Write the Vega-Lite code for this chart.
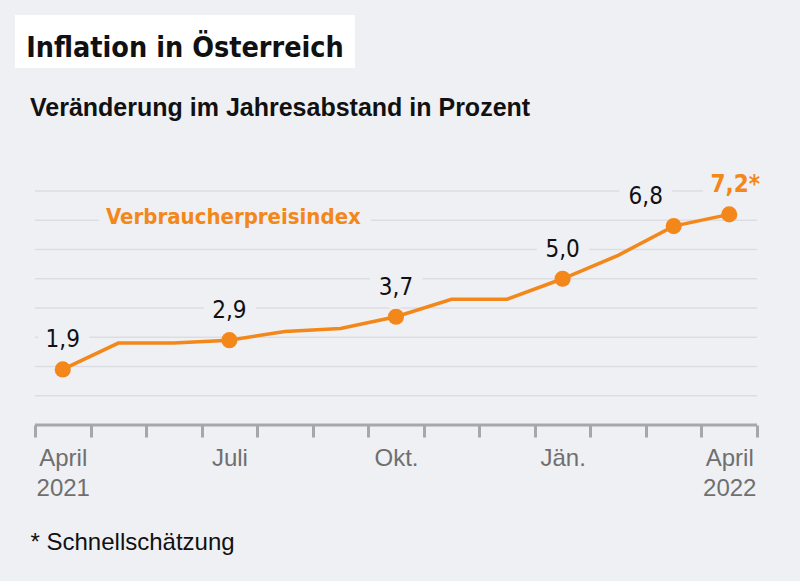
{
  "$schema": "https://vega.github.io/schema/vega-lite/v6.json",
  "background": "#eff0f4",
  "padding": {"left": 15, "top": 15, "right": 23, "bottom": 28},
  "autosize": {"type": "pad"},
  "columns": 1,
  "align": "none",
  "spacing": 28,
  "config": {"view": {"stroke": null}, "font": "Liberation Sans"},
  "datasets": {
    "cpi": [
      {"m": "Apr21", "v": 1.9, "lab": "1,9", "k": "n"},
      {"m": "Mai", "v": 2.8},
      {"m": "Jun", "v": 2.8},
      {"m": "Jul", "v": 2.9, "lab": "2,9", "k": "n"},
      {"m": "Aug", "v": 3.2},
      {"m": "Sep", "v": 3.3},
      {"m": "Okt", "v": 3.7, "lab": "3,7", "k": "n"},
      {"m": "Nov", "v": 4.3},
      {"m": "Dez", "v": 4.3},
      {"m": "Jan", "v": 5.0, "lab": "5,0", "k": "n"},
      {"m": "Feb", "v": 5.8},
      {"m": "Mar", "v": 6.8, "lab": "6,8", "k": "l"},
      {"m": "Apr22", "v": 7.2, "lab": "7,2*", "k": "h"}
    ],
    "grid": [{"g": 1}, {"g": 2}, {"g": 3}, {"g": 4}, {"g": 5}, {"g": 6}, {"g": 7}, {"g": 8}],
    "base": [{"g": 0}],
    "note": [{"m": "Jul", "v": 7.1, "t": "Verbraucherpreisindex"}],
    "head": [{"t": "Inflation in Österreich"}]
  },
  "concat": [
    {
      "width": 340,
      "height": 53,
      "view": {"fill": "white", "stroke": null},
      "data": {"name": "head"},
      "mark": {"type": "text", "font": "DejaVu Sans Condensed, Roboto, sans-serif", "fontWeight": "bold", "fontSize": 28.5, "align": "center", "baseline": "alphabetic", "dy": 15, "color": "#111111"},
      "encoding": {"text": {"field": "t"}}
    },
    {
      "width": 762,
      "height": 234,
      "title": {"text": "Veränderung im Jahresabstand in Prozent", "anchor": "start", "frame": "group", "dx": 15, "offset": 32, "baseline": "alphabetic", "fontSize": 25, "font": "Liberation Sans", "fontWeight": "bold", "color": "#111111"},
      "data": {"name": "cpi"},
      "encoding": {
        "x": {
          "field": "m", "type": "nominal", "sort": null,
          "scale": {"type": "band", "paddingInner": 0, "paddingOuter": 0.36, "domain": ["Apr21", "Mai", "Jun", "Jul", "Aug", "Sep", "Okt", "Nov", "Dez", "Jan", "Feb", "Mar", "Apr22"]},
          "axis": {
            "orient": "bottom", "labelAngle": 0,
            "domain": false,
            "tickColor": "#a7a7ab", "tickWidth": 3, "tickSize": 12, "tickBand": "extent",
            "labelColor": "#6f6f6f", "labelFont": "Liberation Sans", "labelFontSize": 24, "labelPadding": 9, "labelLineHeight": 30,
            "labelExpr": "datum.value == 'Apr21' ? ['April','2021'] : datum.value == 'Jul' ? 'Juli' : datum.value == 'Okt' ? 'Okt.' : datum.value == 'Jan' ? 'Jän.' : datum.value == 'Apr22' ? ['April','2022'] : ''",
            "title": "* Schnellschätzung", "titleFont": "Liberation Sans", "titleFontSize": 24, "titleFontWeight": "normal", "titleColor": "#111111",
            "titleAnchor": "start", "titleAlign": "left", "titleX": 15, "titleY": 124, "titleBaseline": "alphabetic"
          }
        },
        "y": {
          "field": "v", "type": "quantitative",
          "scale": {"domain": [0, 8], "nice": false},
          "axis": null
        }
      },
      "layer": [
        {
          "data": {"name": "grid"},
          "mark": {"type": "rule", "color": "#dcdde2", "strokeWidth": 1.5},
          "encoding": {
            "y": {"field": "g", "type": "quantitative"},
            "x": {"datum": "Apr21", "bandPosition": 0},
            "x2": {"datum": "Apr22", "bandPosition": 1}
          }
        },
        {
          "data": {"name": "base"},
          "mark": {"type": "rule", "color": "#a7a7ab", "strokeWidth": 3},
          "encoding": {
            "y": {"field": "g", "type": "quantitative"},
            "x": {"datum": "Apr21", "bandPosition": 0},
            "x2": {"datum": "Apr22", "bandPosition": 1}
          }
        },
        {
          "transform": [{"filter": "datum.k == 'n'"}],
          "mark": {"type": "text", "font": "DejaVu Sans Condensed, Roboto, sans-serif", "fontSize": 24, "baseline": "middle", "dy": -29, "color": "#eff0f4", "stroke": "#eff0f4", "strokeWidth": 22, "strokeJoin": "round"},
          "encoding": {"text": {"field": "lab"}}
        },
        {
          "transform": [{"filter": "datum.k == 'l'"}],
          "mark": {"type": "text", "font": "DejaVu Sans Condensed, Roboto, sans-serif", "fontSize": 24, "baseline": "middle", "dy": -29, "dx": -28, "color": "#eff0f4", "stroke": "#eff0f4", "strokeWidth": 22, "strokeJoin": "round"},
          "encoding": {"text": {"field": "lab"}}
        },
        {
          "transform": [{"filter": "datum.k == 'h'"}],
          "mark": {"type": "text", "font": "DejaVu Sans Condensed, Roboto, sans-serif", "fontWeight": "bold", "fontSize": 24, "baseline": "middle", "dy": -29, "dx": 6, "color": "#eff0f4", "stroke": "#eff0f4", "strokeWidth": 22, "strokeJoin": "round"},
          "encoding": {"text": {"field": "lab"}}
        },
        {
          "data": {"name": "note"},
          "mark": {"type": "text", "font": "DejaVu Sans Condensed, Roboto, sans-serif", "fontWeight": "bold", "fontSize": 22, "baseline": "middle", "dx": 4, "color": "#eff0f4", "stroke": "#eff0f4", "strokeWidth": 22, "strokeJoin": "round"},
          "encoding": {"text": {"field": "t"}}
        },
        {
          "mark": {"type": "line", "color": "#f3871a", "strokeWidth": 3.5}
        },
        {
          "transform": [{"filter": "datum.lab != null"}],
          "mark": {"type": "circle", "color": "#f3871a", "size": 260, "opacity": 1}
        },
        {
          "transform": [{"filter": "datum.k == 'n'"}],
          "mark": {"type": "text", "font": "DejaVu Sans Condensed, Roboto, sans-serif", "fontSize": 24, "baseline": "middle", "dy": -29, "color": "#111111"},
          "encoding": {"text": {"field": "lab"}}
        },
        {
          "transform": [{"filter": "datum.k == 'l'"}],
          "mark": {"type": "text", "font": "DejaVu Sans Condensed, Roboto, sans-serif", "fontSize": 24, "baseline": "middle", "dy": -29, "dx": -28, "color": "#111111"},
          "encoding": {"text": {"field": "lab"}}
        },
        {
          "transform": [{"filter": "datum.k == 'h'"}],
          "mark": {"type": "text", "font": "DejaVu Sans Condensed, Roboto, sans-serif", "fontWeight": "bold", "fontSize": 24, "baseline": "middle", "dy": -29, "dx": 6, "color": "#f3871a"},
          "encoding": {"text": {"field": "lab"}}
        },
        {
          "data": {"name": "note"},
          "mark": {"type": "text", "font": "DejaVu Sans Condensed, Roboto, sans-serif", "fontWeight": "bold", "fontSize": 22, "baseline": "middle", "dx": 4, "color": "#f3871a"},
          "encoding": {"text": {"field": "t"}}
        }
      ]
    }
  ]
}
